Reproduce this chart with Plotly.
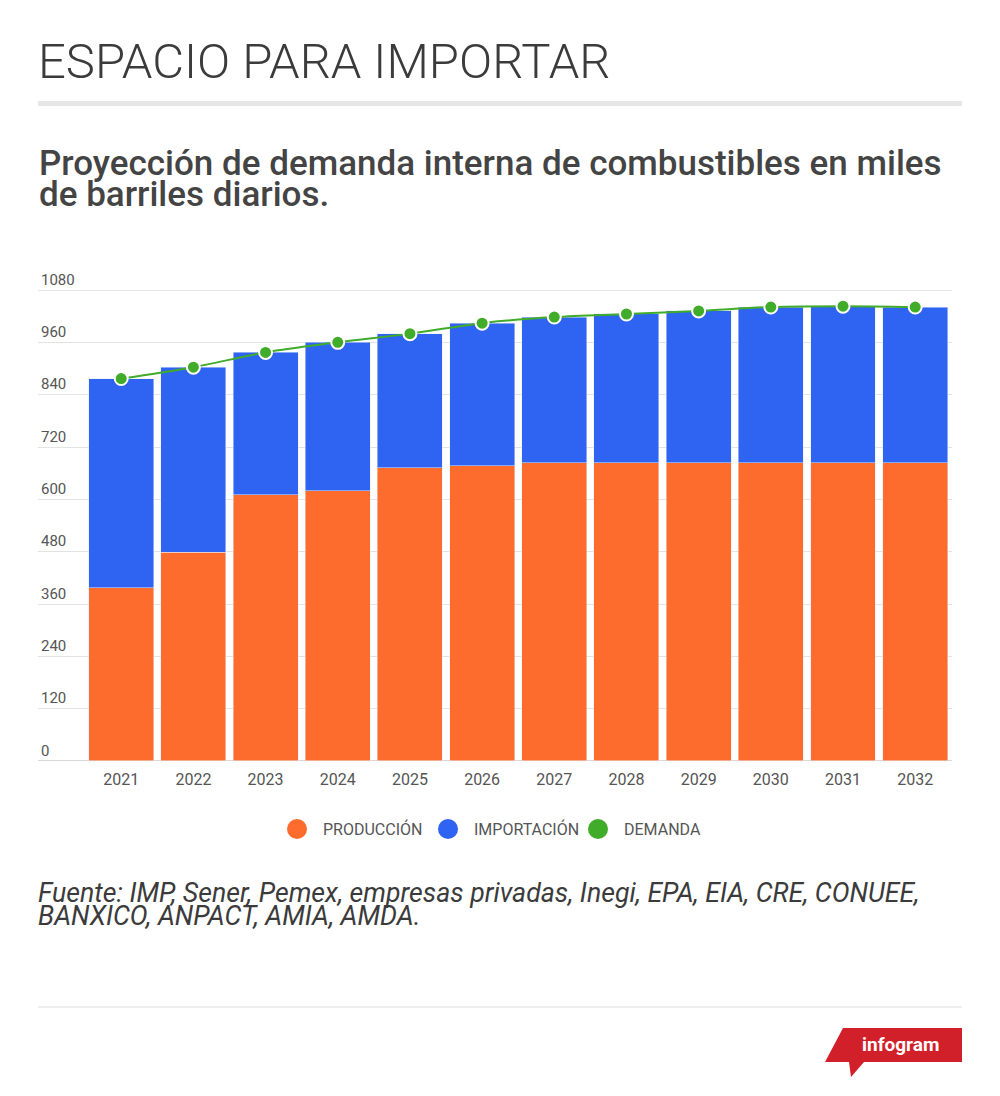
import plotly.graph_objects as go

# data (miles de barriles diarios)
years = ["2021", "2022", "2023", "2024", "2025", "2026",
         "2027", "2028", "2029", "2030", "2031", "2032"]
produccion = [397, 479, 611, 620, 672, 677, 684, 684, 684, 684, 684, 684]
demanda = [877, 903, 937, 960, 980, 1004, 1018, 1025, 1032, 1041, 1043, 1041]
importacion = [d - p for d, p in zip(demanda, produccion)]
y_ticks = [0, 120, 240, 360, 480, 600, 720, 840, 960, 1080]
series_names = ["PRODUCCIÓN", "IMPORTACIÓN", "DEMANDA"]

ORANGE = "#fd6c2d"
BLUE = "#2e64f1"
GREEN = "#41ab2a"
# page body has an 8px margin, so the figure sits at (8, 8)
OFF = 8
W, H = 992, 1088


def px(x):
    return (x - OFF) / W


def py(y):
    return 1 - (y - OFF) / H


fig = go.Figure()
fig.add_trace(go.Bar(x=years, y=produccion, marker_color=ORANGE,
                     name=series_names[0]))
fig.add_trace(go.Bar(x=years, y=importacion, marker_color=BLUE,
                     name=series_names[1]))
fig.add_trace(go.Scatter(x=years, y=demanda, mode="lines+markers",
                         line=dict(color=GREEN, width=2, shape="spline"),
                         marker=dict(color=GREEN, size=13,
                                     line=dict(color="white", width=2)),
                         name=series_names[2]))

# y scale: 0 sits at 761px, 0.4361 px per unit; headroom above 1080 for its label
y_top = 1130
fig.update_layout(
    width=W, height=H,
    margin=dict(l=0, r=0, t=0, b=0),
    paper_bgcolor="white", plot_bgcolor="white",
    barmode="stack", bargap=0.1,
    font=dict(family="Roboto", color="#555555", size=15),
    showlegend=False,
    xaxis=dict(domain=[px(38), px(952)], range=[-1.153, 11.51],
               type="category", showgrid=False, zeroline=False,
               showline=False, ticks="", ticklabelstandoff=7,
               tickfont=dict(size=16, color="#555555"),
               fixedrange=True),
    yaxis=dict(domain=[py(761), py(761 - y_top * 0.4361)], range=[0, y_top],
               tickvals=y_ticks, ticktext=[str(v) for v in y_ticks],
               ticklabelposition="inside top", ticks="",
               showgrid=True, gridcolor="#e3e3e3", gridwidth=1,
               zeroline=True, zerolinecolor="#d8d8d8", zerolinewidth=1,
               showline=False, tickfont=dict(size=15, color="#555555"),
               fixedrange=True),
)

annotations = [
    dict(text="ESPACIO PARA IMPORTAR", x=px(36), y=py(61.5),
         font=dict(size=49, color="#3b3b3b", weight=300)),
    dict(text="Proyección de demanda interna de combustibles en miles",
         x=px(37), y=py(163), font=dict(size=35, color="#444444", weight=500)),
    dict(text="de barriles diarios.",
         x=px(37), y=py(194.5), font=dict(size=35, color="#444444", weight=500)),
    dict(text="<i>Fuente: IMP, Sener, Pemex, empresas privadas, Inegi, EPA, EIA, CRE, CONUEE,</i>",
         x=px(36), y=py(892.5), font=dict(size=26.7, color="#3b3b3b")),
    dict(text="<i>BANXICO, ANPACT, AMIA, AMDA.</i>",
         x=px(36), y=py(916), font=dict(size=26.7, color="#3b3b3b")),
    dict(text="<b>infogram</b>", x=px(900), y=py(1044), xanchor="center",
         font=dict(size=19, color="white")),
]

# legend: round dots with labels, centred under the chart
legend_colors = [ORANGE, BLUE, GREEN]
legend_dot_x = [297, 448, 598]
for name, col, cx in zip(series_names, legend_colors, legend_dot_x):
    fig.add_shape(type="circle", xref="paper", yref="paper",
                  x0=px(cx - 10), x1=px(cx + 10), y0=py(829 + 10), y1=py(829 - 10),
                  fillcolor=col, line_width=0)
    annotations.append(dict(text=name, x=px(cx + 24), y=py(829),
                            font=dict(size=16, color="#555555")))

for a in annotations:
    a.setdefault("xanchor", "left")
    fig.add_annotation(xref="paper", yref="paper", yanchor="middle",
                       showarrow=False, **a)

# separators and the infogram badge
fig.add_shape(type="rect", xref="paper", yref="paper",
              x0=px(38), x1=px(962), y0=py(101), y1=py(106),
              fillcolor="#e6e6e6", line_width=0)
fig.add_shape(type="line", xref="paper", yref="paper",
              x0=px(38), x1=px(962), y0=py(1007), y1=py(1007),
              line=dict(color="#e0e0e0", width=1))
badge = [(843, 1028), (962, 1028), (962, 1062), (864, 1062),
         (851, 1077), (849, 1062), (825, 1062)]
path = "M " + " L ".join(f"{px(x)},{py(y)}" for x, y in badge) + " Z"
fig.add_shape(type="path", xref="paper", yref="paper", path=path,
              fillcolor="#d2202a", line_width=0)

fig.write_html("out.html")
